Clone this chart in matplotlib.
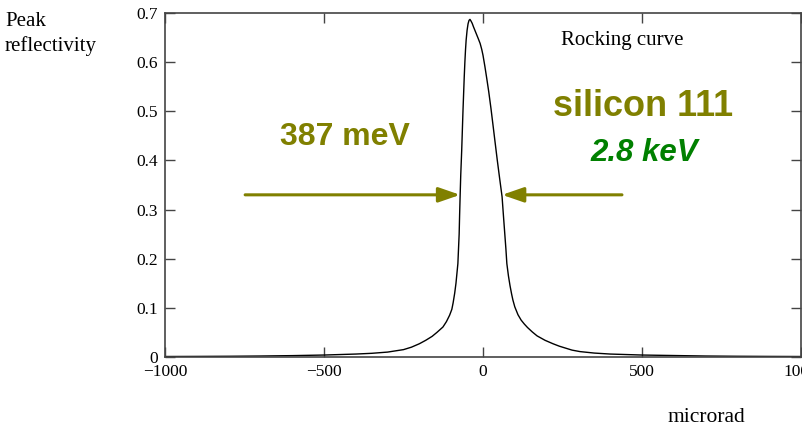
import matplotlib.pyplot as plt

# rocking curve
angle = [-1000, -900, -800, -700, -600, -500, -450, -400, -350, -300, -270,
         -250, -225, -200, -180, -160, -145, -126, -115, -105, -98, -94, -89,
         -85, -82, -79, -77, -75, -73.5, -72, -70, -67, -65, -63, -61, -59,
         -57, -55, -53, -50, -47, -44, -41, -38, -34, -30, -25, -20, -15, -9,
         -4, 0, 6, 12, 18, 25, 32, 38, 45, 52, 60, 64, 68, 72, 75, 80, 85,
         90, 94, 100, 110, 120, 130, 140, 155, 170, 195, 220, 240, 260, 280,
         305, 350, 400, 450, 500, 600, 700, 800, 900, 1000]
refl = [0.001, 0.0012, 0.0015, 0.002, 0.0028, 0.004, 0.005, 0.006, 0.0075,
        0.01, 0.013, 0.015, 0.02, 0.027, 0.034, 0.042, 0.05, 0.061, 0.072,
        0.085, 0.097, 0.11, 0.13, 0.15, 0.17, 0.19, 0.22, 0.25, 0.29, 0.326,
        0.37, 0.42, 0.46, 0.50, 0.535, 0.57, 0.60, 0.625, 0.645, 0.665, 0.678,
        0.685, 0.687, 0.684, 0.679, 0.672, 0.664, 0.656, 0.648, 0.638, 0.626,
        0.614, 0.591, 0.566, 0.54, 0.506, 0.469, 0.437, 0.40, 0.365, 0.326,
        0.29, 0.255, 0.22, 0.19, 0.165, 0.145, 0.128, 0.116, 0.102, 0.086,
        0.075, 0.067, 0.060, 0.051, 0.043, 0.034, 0.027, 0.022, 0.018, 0.014,
        0.011, 0.008, 0.006, 0.005, 0.004, 0.003, 0.002, 0.0015, 0.0012, 0.001]

xticks = [-1000, -500, 0, 500, 1000]
xlabels = ['\u22121000', '\u2212500', '0', '500', '1000']
yticks = [0, 0.1, 0.2, 0.3, 0.4, 0.5, 0.6, 0.7]
ylabels = ['0', '0.1', '0.2', '0.3', '0.4', '0.5', '0.6', '0.7']
half_max = 0.33
fwhm_left = -72
fwhm_right = 60

olive = '#808000'
serif = 'Liberation Serif'

fig = plt.figure(figsize=(8.03, 4.29), dpi=100)
ax = fig.add_axes([165 / 803, 1 - 357 / 429, 636 / 803, 344 / 429])

ax.plot(angle, refl, color='black', lw=1)
ax.set_xlim(-1000, 1000)
ax.set_ylim(0, 0.7)
ax.set_xticks(xticks)
ax.set_yticks(yticks)
ax.set_xticklabels(xlabels)
ax.set_yticklabels(ylabels)
ax.tick_params(direction='in', length=7, width=1, color='#444444',
               top=True, right=True, labelsize=12.5, pad=5)
ax.tick_params(axis='x', pad=5)
for lab in ax.get_xticklabels() + ax.get_yticklabels():
    lab.set_fontfamily(serif)
for s in ax.spines.values():
    s.set_color('#444444')
    s.set_linewidth(1.2)

# FWHM arrows
arrow = dict(arrowstyle='-|>,head_length=1.3,head_width=0.45', color=olive,
             lw=2.2, shrinkA=0, shrinkB=0)
ax.annotate('', xy=(fwhm_left, half_max), xytext=(-748, half_max),
            arrowprops=arrow)
ax.annotate('', xy=(fwhm_right, half_max), xytext=(437, half_max),
            arrowprops=arrow)

fig.text(5 / 803, 1 - 34 / 429, 'Peak\nreflectivity', family=serif,
         fontsize=15, va='center', ha='left', linespacing=1.35)
fig.text(622 / 803, 1 - 40 / 429, 'Rocking curve', family=serif,
         fontsize=15, ha='center', va='center')
fig.text(706 / 803, 1 - 418 / 429, 'microrad', family=serif,
         fontsize=15.5, ha='center', va='center')

fig.text(643 / 803, 1 - 106 / 429, 'silicon 111', family='Liberation Sans',
         fontsize=26, weight='bold', color=olive, ha='center', va='center')
fig.text(644 / 803, 1 - 153 / 429, '2.8 keV', family='Liberation Sans',
         fontsize=22.5, weight='bold', style='italic', color='#008000',
         ha='center', va='center')
fig.text(345 / 803, 1 - 137 / 429, '387 meV', family='Liberation Sans',
         fontsize=23, weight='bold', color=olive, ha='center', va='center')

fig.savefig('out.png', dpi=100)
